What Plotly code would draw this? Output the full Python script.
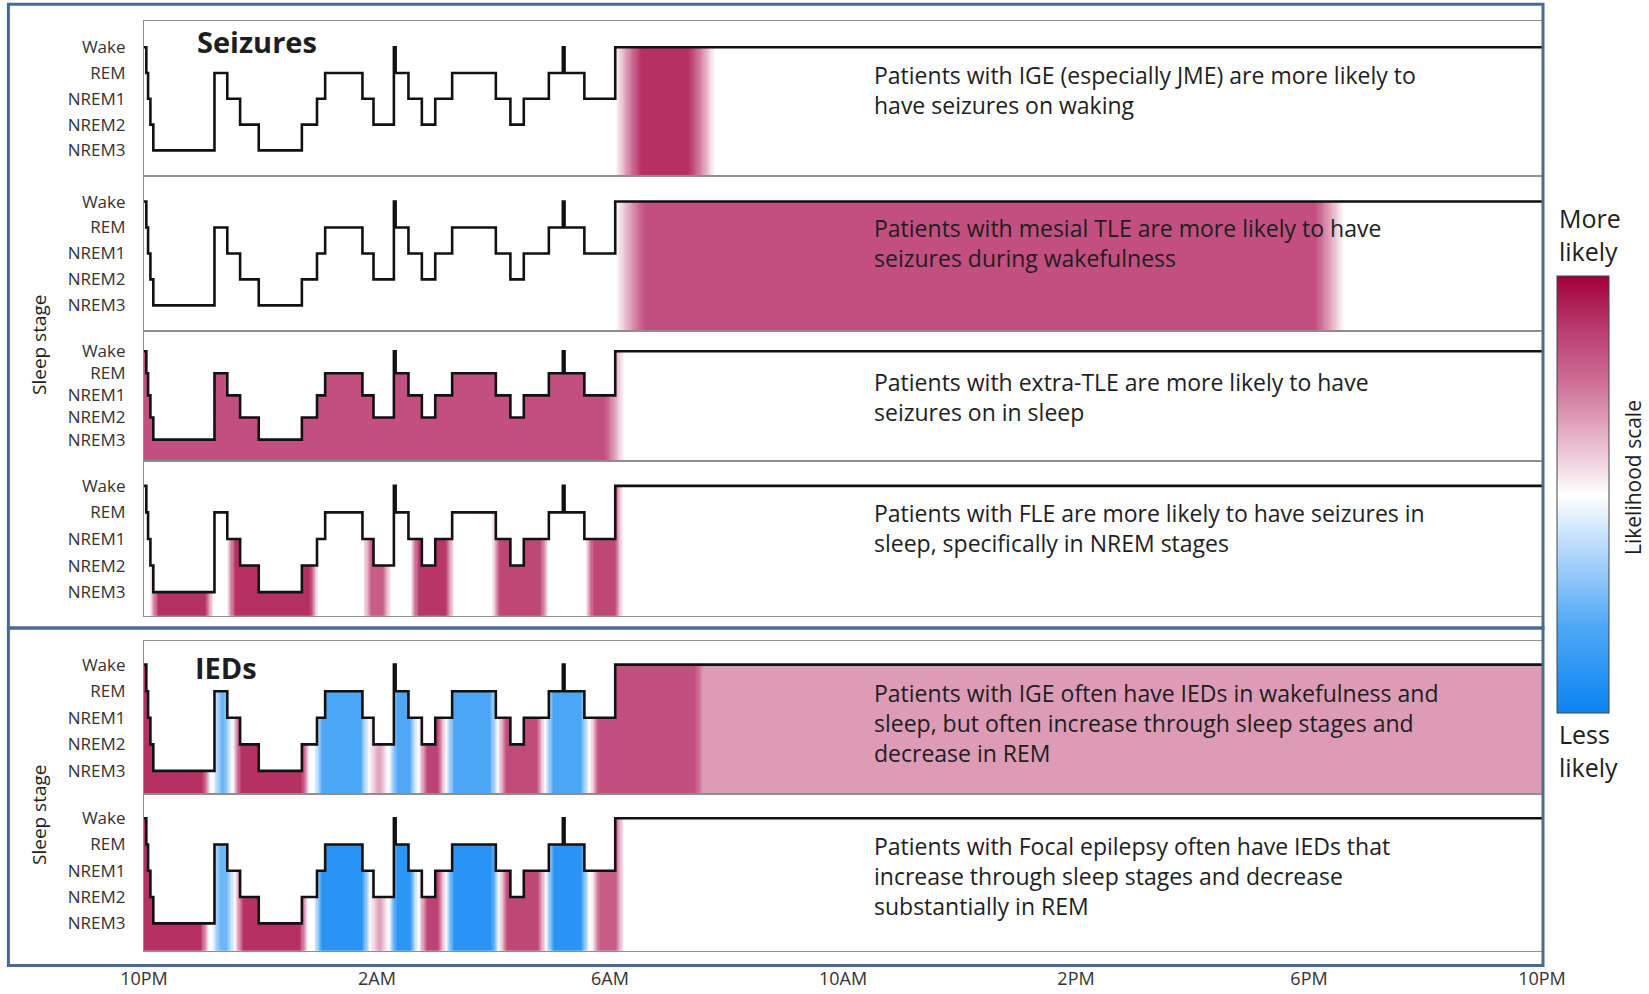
import numpy as np
import plotly.graph_objects as go

W, H = 1649, 994

# ---------------- data ----------------
STAGE_LABELS = ["NREM3", "NREM2", "NREM1", "REM", "Wake"]
X_TICK_HOURS = [0, 4, 8, 12, 16, 20, 24]
X_TICK_LABELS = ["10PM", "2AM", "6AM", "10AM", "2PM", "6PM", "10PM"]

# hypnogram: hours after 10PM and sleep stage entered at that time
HYPNO_T = [0.00, 0.04, 0.07, 0.11, 0.16, 1.21, 1.43, 1.65, 1.97, 2.71, 2.97, 3.11,
           3.75, 3.94, 4.29, 4.32, 4.54, 4.77, 5.00, 5.29, 6.04, 6.29, 6.52, 6.95,
           7.19, 7.22, 7.56, 8.09, 24.0]
HYPNO_STAGE = ["Wake", "REM", "NREM1", "NREM2", "NREM3", "REM", "NREM1", "NREM2",
               "NREM3", "NREM2", "NREM1", "REM", "NREM1", "NREM2", "Wake", "REM",
               "NREM1", "NREM2", "NREM1", "REM", "NREM1", "NREM2", "NREM1", "REM",
               "Wake", "REM", "NREM1", "Wake", "Wake"]

# likelihood bands: (start hour, end hour, likelihood -1 .. 1)
BANDS_IGE_SEIZ = [(8.09, 9.80, 0.80)]
BANDS_MTLE_SEIZ = [(8.10, 20.60, 0.66)]
BANDS_ETLE_SEIZ = [(0.00, 8.25, 0.66)]
BANDS_FLE_SEIZ = [(0.10, 1.19, 0.80), (1.42, 2.99, 0.80), (3.76, 4.24, 0.60),
                  (4.57, 5.32, 0.78), (5.97, 6.95, 0.70), (7.57, 8.22, 0.70)]
BANDS_IGE_IED = [(0.00, 1.15, 0.80), (1.18, 1.52, -0.50), (1.52, 2.85, 0.80),
                 (2.92, 3.86, -0.62), (3.86, 4.20, 0.30), (4.20, 4.70, -0.60),
                 (4.72, 5.18, 0.72), (5.18, 6.08, -0.62), (6.08, 6.88, 0.68),
                 (6.88, 7.64, -0.62), (7.66, 9.60, 0.66), (9.45, 24.0, 0.35)]
BANDS_FOCAL_IED = [(0.00, 1.12, 0.80), (1.16, 1.56, -0.50), (1.56, 2.82, 0.80),
                   (2.92, 3.88, -0.82), (3.88, 4.20, 0.32), (4.20, 4.70, -0.80),
                   (4.72, 5.18, 0.72), (5.18, 6.10, -0.82), (6.10, 6.90, 0.70),
                   (6.90, 7.64, -0.82), (7.68, 8.24, 0.60)]

TEXTS = [
    ["Patients with IGE (especially JME) are more likely to", "have seizures on waking"],
    ["Patients with mesial TLE are more likely to have", "seizures during wakefulness"],
    ["Patients with extra-TLE are more likely to have", "seizures on in sleep"],
    ["Patients with FLE are more likely to have seizures in", "sleep, specifically in NREM stages"],
    ["Patients with IGE often have IEDs in wakefulness and",
     "sleep, but often increase through sleep stages and", "decrease in REM"],
    ["Patients with Focal epilepsy often have IEDs that",
     "increase through sleep stages and decrease", "substantially in REM"],
]

# ---------------- style / layout ----------------
FONT = "Open Sans"
PLOT_L, PLOT_R = 144, 1542
# (top px, bottom px, y range, band list, fade hours, text block centre y px)
PANELS = [
    (21.0, 175.6, [-0.98, 5.02], BANDS_IGE_SEIZ, 0.45, 90.5),
    (175.6, 331.3, [-1.0, 5.0], BANDS_MTLE_SEIZ, 0.50, 243.0),
    (331.3, 460.6, [-0.95, 4.90], BANDS_ETLE_SEIZ, 0.35, 396.5),
    (460.6, 616.3, [-0.91, 4.95], BANDS_FLE_SEIZ, 0.15, 528.0),
    (640.5, 794.0, [-0.87, 4.91], BANDS_IGE_IED, 0.15, 722.5),
    (794.0, 950.7, [-1.04, 4.92], BANDS_FOCAL_IED, 0.15, 876.0),
]

COLORSCALE = [
    [0.00, "#0A84F2"], [0.20, "#4FA8F6"], [0.35, "#A8D2FA"], [0.50, "#FFFFFF"],
    [0.62, "#E8B9CC"], [0.75, "#CF7199"], [0.88, "#BA3A6E"], [1.00, "#A3003A"],
]

stage_level = {s: i for i, s in enumerate(STAGE_LABELS)}
hyp_t = np.array(HYPNO_T)
hyp_lv = np.array([stage_level[s] for s in HYPNO_STAGE])

x_edges = np.linspace(0, 24, 1201)
x_cent = 0.5 * (x_edges[:-1] + x_edges[1:])
idx = np.clip(np.searchsorted(hyp_t, x_cent, side="right") - 1, 0, len(hyp_t) - 1)
col_level = hyp_lv[idx]


def band_profile(bands, fade):
    z = np.zeros_like(x_cent)
    for t0, t1, v in bands:
        r = np.ones_like(x_cent)
        if t0 > 0:
            r = np.minimum(r, (x_cent - t0) / fade)
        if t1 < 24:
            r = np.minimum(r, (t1 - x_cent) / fade)
        r = np.clip(r, 0, 1)
        r[(x_cent < t0) | (x_cent > t1)] = 0
        z += v * r
    return z


fig = go.Figure()
layout = {}
for i, (top, bot, yr, bands, fade, ty) in enumerate(PANELS, start=1):
    prof = band_profile(bands, fade)
    y_edges = [yr[0], 0, 1, 2, 3, 4]
    z = []
    for k in range(5):
        row = [float(prof[j]) if k <= col_level[j] else None for j in range(len(x_cent))]
        z.append(row)
    xa = "x" if i == 1 else f"x{i}"
    ya = "y" if i == 1 else f"y{i}"
    fig.add_trace(go.Heatmap(
        x=x_edges, y=y_edges, z=z, coloraxis="coloraxis", zsmooth=False,
        hoverinfo="skip", xaxis=xa, yaxis=ya,
    ))
    fig.add_trace(go.Scatter(
        x=HYPNO_T, y=hyp_lv, mode="lines", line=dict(color="#111111", width=2.6, shape="hv"),
        hoverinfo="skip", showlegend=False, xaxis=xa, yaxis=ya,
    ))
    kx = "xaxis" if i == 1 else f"xaxis{i}"
    ky = "yaxis" if i == 1 else f"yaxis{i}"
    layout[kx] = dict(
        domain=[PLOT_L / W, PLOT_R / W], range=[0, 24], anchor=ya, automargin=False,
        showgrid=False, zeroline=False, showline=True, mirror=True,
        linecolor="#8e8e8e", linewidth=1.2, ticks="",
        showticklabels=(i == 6), tickvals=X_TICK_HOURS, ticktext=X_TICK_LABELS,
        tickfont=dict(family=FONT, size=18, color="#333333"), ticklabelstandoff=12,
    )
    layout[ky] = dict(
        domain=[1 - bot / H, 1 - top / H], range=yr, anchor=xa, automargin=False,
        showgrid=False, zeroline=False, showline=True, mirror=True,
        linecolor="#8e8e8e", linewidth=1.2, ticks="",
        tickvals=[0, 1, 2, 3, 4], ticktext=STAGE_LABELS,
        tickfont=dict(family=FONT, size=17, color="#333333"), ticklabelstandoff=14,
    )

annotations = []


def ann(text, x, y, size, bold=False, angle=0, xanchor="center", align="center"):
    annotations.append(dict(
        x=x / W, y=1 - y / H, xref="paper", yref="paper",
        text=(f"<b>{text}</b>" if bold else text),
        showarrow=False, textangle=angle, xanchor=xanchor, yanchor="middle", align=align,
        font=dict(family=FONT, size=size, color="#1e1e1e"),
    ))


for (top, bot, yr, bands, fade, ty), lines in zip(PANELS, TEXTS):
    ann("<br>".join(lines), 872, ty, 23, xanchor="left", align="left")

ann("Seizures", 257, 42, 29, bold=True)
ann("IEDs", 226, 667, 29, bold=True)
ann("Sleep stage", 39, 345, 19, angle=-90)
ann("Sleep stage", 39, 815, 19, angle=-90)
ann("More<br>likely", 1557, 235, 25, xanchor="left", align="left")
ann("Less<br>likely", 1557, 750, 25, xanchor="left", align="left")
ann("Likelihood scale", 1633, 478, 21, angle=-90)

BOX_COLOR = "#4A6A96"
shapes = [
    dict(type="rect", xref="paper", yref="paper", x0=8.4 / W, x1=1543 / W,
         y0=1 - 628 / H, y1=1 - 4.2 / H, line=dict(color=BOX_COLOR, width=3)),
    dict(type="rect", xref="paper", yref="paper", x0=8.4 / W, x1=1543 / W,
         y0=1 - 965.5 / H, y1=1 - 628 / H, line=dict(color=BOX_COLOR, width=3)),
]

fig.update_layout(
    width=W, height=H, margin=dict(l=0, r=0, t=0, b=0, autoexpand=False),
    paper_bgcolor="white", plot_bgcolor="white", showlegend=False,
    annotations=annotations, shapes=shapes,
    coloraxis=dict(
        colorscale=COLORSCALE, cmin=-1, cmax=1,
        colorbar=dict(
            x=1557 / W, xanchor="left", y=1 - 494.3 / H, yanchor="middle",
            len=437, lenmode="pixels", thickness=52, thicknessmode="pixels",
            outlinewidth=1, outlinecolor="#444444", showticklabels=False, ticks="",
            xpad=0, ypad=0,
        ),
    ),
    **layout,
)

fig.write_html(
    "out.html",
    config={"displayModeBar": False},
    post_script="document.body.style.margin='0px';document.body.style.padding='0px';"
                "document.body.style.overflow='hidden';",
)
